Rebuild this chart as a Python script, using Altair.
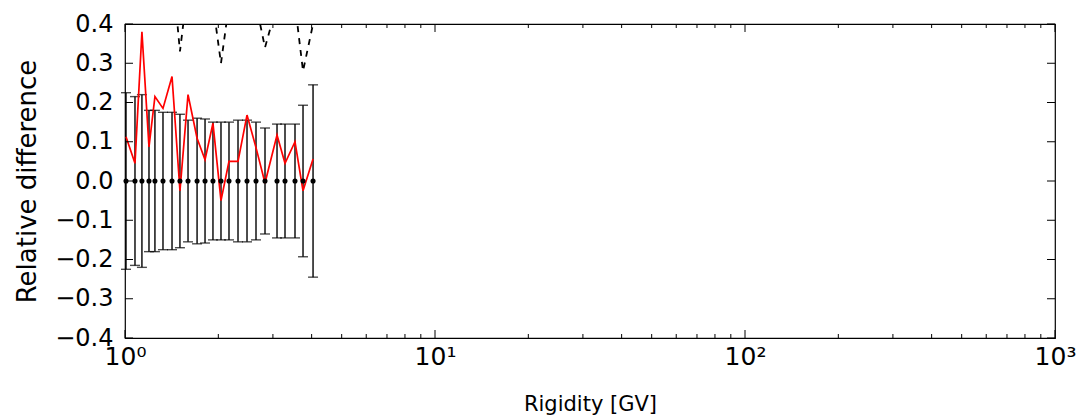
import altair as alt
import pandas as pd

# ---- data ----
rigidity = [1.0075, 1.077, 1.134, 1.195, 1.249, 1.326, 1.418, 1.504, 1.597, 1.708,
            1.812, 1.922, 2.040, 2.165, 2.315, 2.475, 2.646, 2.829, 3.093, 3.282,
            3.535, 3.752, 4.042]
model_diff = [0.113, 0.045, 0.38, 0.087, 0.215, 0.185, 0.266, -0.025, 0.22, 0.109,
              0.054, 0.147, -0.05, 0.05, 0.05, 0.168, 0.085, -0.005, 0.117, 0.045,
              0.1, -0.025, 0.056]
rel_err = [0.225, 0.215, 0.22, 0.18, 0.18, 0.175, 0.175, 0.17, 0.155, 0.16,
           0.158, 0.15, 0.15, 0.15, 0.155, 0.155, 0.15, 0.135, 0.145, 0.145,
           0.145, 0.193, 0.245]
dashed_diff = [0.9, 0.8, 0.9, 0.7, 0.7, 0.6, 0.55, 0.33, 0.5, 0.55,
               0.5, 0.45, 0.30, 0.45, 0.5, 0.5, 0.45, 0.34, 0.45, 0.42,
               0.45, 0.28, 0.4]

x_major = [1, 10, 100, 1000]
x_minor = [m * d for d in (1, 10, 100) for m in range(2, 10)]
y_ticks = [-0.4, -0.3, -0.2, -0.1, 0.0, 0.1, 0.2, 0.3, 0.4]

W, H = 930, 314
FONT = "DejaVu Sans"

pts = pd.DataFrame({
    "R": rigidity,
    "zero": [0.0] * len(rigidity),
    "lo": [-e for e in rel_err],
    "hi": rel_err,
    "model": model_diff,
    "dash": dashed_diff,
})

xscale = alt.Scale(type="log", domain=[1, 1000], nice=False)
yscale = alt.Scale(domain=[-0.4, 0.4], nice=False, zero=False)

label_expr = ("datum.value == 1 ? '10⁰' : datum.value == 10 ? '10¹' : "
              "datum.value == 100 ? '10²' : '10³'")
xaxis = alt.Axis(values=x_major, labelExpr=label_expr, ticks=False, tickSize=0,
                 domain=False, grid=False, labelFont=FONT, labelFontSize=25,
                 labelColor="black", labelPadding=6, title="Rigidity [GV]",
                 titleFont=FONT, titleFontSize=21, titleFontWeight="normal",
                 titleColor="black", titlePadding=24, labelFlush=False)
yaxis = alt.Axis(values=y_ticks,
                 labelExpr="replace(format(datum.value, '.1f'), '-', '−')",
                 ticks=False, tickSize=0, domain=False, grid=False,
                 labelFont=FONT, labelFontSize=24, labelColor="black",
                 labelPadding=12, title="Relative difference", titleFont=FONT,
                 titleFontSize=26, titleFontWeight="normal", titleColor="black",
                 titlePadding=14)

X = alt.X("R:Q", scale=xscale, axis=xaxis)

base = alt.Chart(pts)

bars = base.mark_rule(color="black", strokeWidth=1.4).encode(
    x=X, y=alt.Y("lo:Q", scale=yscale, axis=yaxis), y2="hi:Q")
cap_hi = base.mark_tick(color="black", orient="horizontal", size=10, thickness=1.4).encode(
    x=X, y=alt.Y("hi:Q", scale=yscale, axis=yaxis))
cap_lo = base.mark_tick(color="black", orient="horizontal", size=10, thickness=1.4).encode(
    x=X, y=alt.Y("lo:Q", scale=yscale, axis=yaxis))
dots = base.mark_circle(color="black", size=26, opacity=1).encode(
    x=X, y=alt.Y("zero:Q", scale=yscale, axis=yaxis))
red = base.mark_line(color="red", strokeWidth=1.7, clip=True).encode(
    x=X, y=alt.Y("model:Q", scale=yscale, axis=yaxis))
dash = base.mark_line(color="black", strokeWidth=1.8, strokeDash=[6, 6], clip=True).encode(
    x=X, y=alt.Y("dash:Q", scale=yscale, axis=yaxis))

maj = pd.DataFrame({"R": x_major})
mnr = pd.DataFrame({"R": x_minor})
yt = pd.DataFrame({"V": y_ticks})

def xticks(df, length):
    c = alt.Chart(df)
    bottom = c.mark_rule(color="black", strokeWidth=1).encode(
        x=X, y=alt.value(H), y2=alt.value(H - length))
    top = c.mark_rule(color="black", strokeWidth=1).encode(
        x=X, y=alt.value(0), y2=alt.value(length))
    return [bottom, top]

yc = alt.Chart(yt)
Yt = alt.Y("V:Q", scale=yscale, axis=yaxis)
yleft = yc.mark_rule(color="black", strokeWidth=1).encode(
    y=Yt, x=alt.value(0), x2=alt.value(8))
yright = yc.mark_rule(color="black", strokeWidth=1).encode(
    y=Yt, x=alt.value(W), x2=alt.value(W - 8))

layers = [bars, cap_hi, cap_lo, dash, red, dots] + xticks(maj, 8) + xticks(mnr, 4) + [yleft, yright]

chart = alt.layer(*layers).properties(
    width=W, height=H,
    autosize=alt.AutoSizeParams(type="none"),
    padding={"left": 125, "top": 24, "right": 26, "bottom": 81},
    background="white",
).configure_view(stroke="black", strokeWidth=1.2)

chart.save("out.html", embed_options={"renderer": "svg", "actions": False})
